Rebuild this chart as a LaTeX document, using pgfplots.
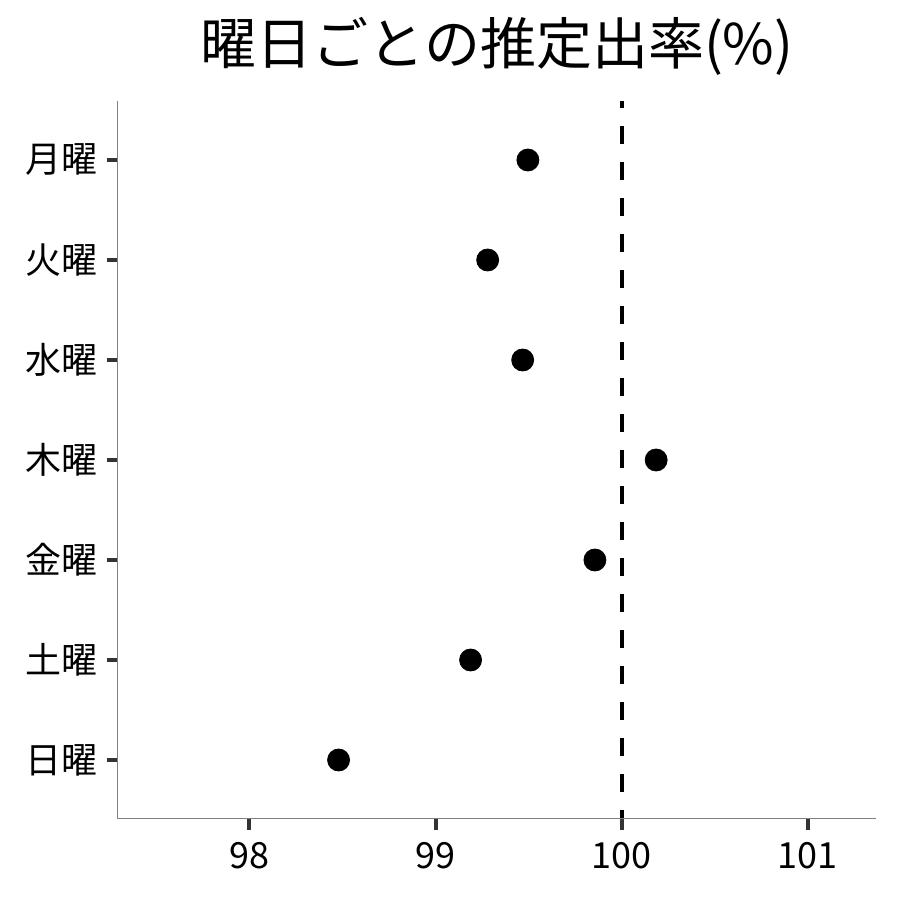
\documentclass[border=0pt]{standalone}
\usepackage{fontspec}
\setmainfont{Noto Sans CJK JP}
\usepackage{pgfplots}
\pgfplotsset{compat=1.18}
\usepackage{pgfplotstable}

% y: 1 = 日曜 ... 7 = 月曜
\pgfplotstableread{
rate    day
98.479  1
99.188  2
99.856  3
100.185 4
99.468  5
99.280  6
99.496  7
}\rates

\begin{document}
\begin{tikzpicture}
\useasboundingbox (0,0) rectangle (450pt,450pt);
\begin{axis}[
    at={(59pt,40.5pt)}, anchor=south west,
    scale only axis,
    width=379pt, height=359pt,
    xmin=97.294, xmax=101.366,
    ymin=0.41, ymax=7.59,
    axis line style={draw=none},
    xtick pos=bottom,
    ytick pos=left,
    xtick={98,99,100,101},
    ytick={1,...,7},
    yticklabels={日曜,土曜,金曜,木曜,水曜,火曜,月曜},
    tick align=outside,
    major tick length=5.5pt,
    tick style={draw=black!80, line width=2pt},
    ticklabel style={font=\fontsize{18}{18}\selectfont, inner sep=0pt},
    xticklabel style={anchor=base, yshift=-19pt},
    yticklabel style={anchor=east, xshift=-4.5pt},
    /pgf/number format/assume math mode=true,
    title={曜日ごとの推定出率(\%)},
    title style={font=\fontsize{28}{28}\selectfont, at={(0.5,1)}, anchor=base, yshift=12pt, inner sep=0pt},
    clip=false,
]
\addplot[only marks, mark=*, mark size=5.5pt, black] table[x=rate, y=day] {\rates};
\draw[black, line width=2pt, dash pattern=on 9pt off 9pt, dash phase=4.5pt]
    (axis cs:100,0.41) -- (axis cs:100,7.59);
% left and bottom axis lines only
\draw[black!50, line width=0.5pt]
    (rel axis cs:0,1) -- (rel axis cs:0,0) -- (rel axis cs:1,0);
\end{axis}
\end{tikzpicture}
\end{document}
